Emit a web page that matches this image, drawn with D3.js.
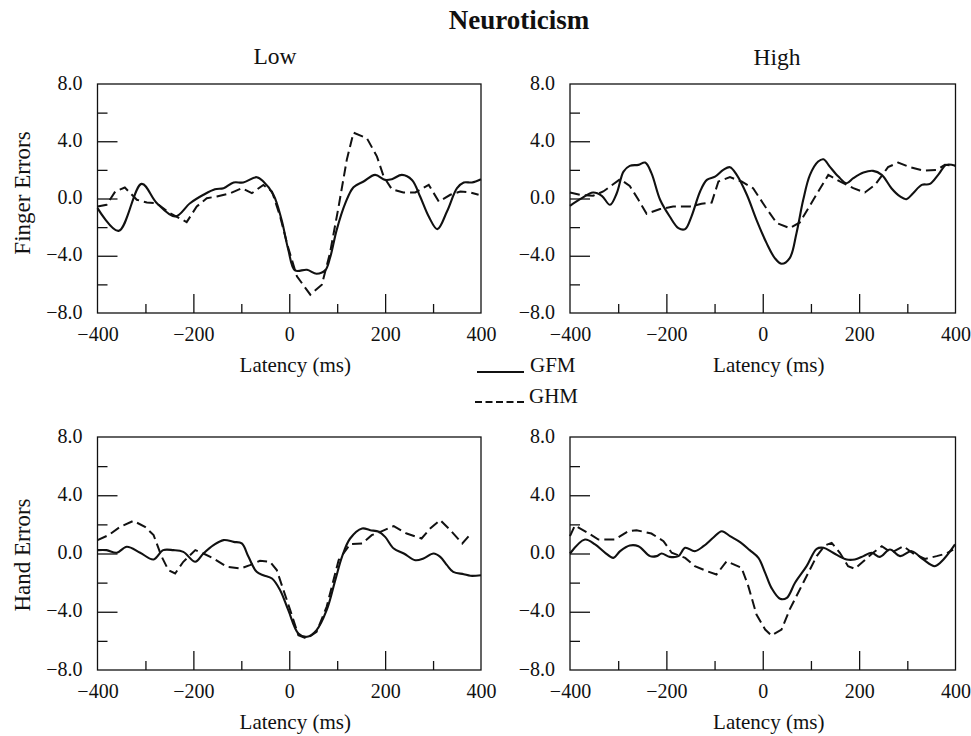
<!DOCTYPE html>
<html><head><meta charset="utf-8">
<script src="https://cdn.jsdelivr.net/npm/d3@7"></script>
<style>
html,body{margin:0;padding:0;background:#fff;}
text{font-family:"Liberation Serif","Times New Roman",serif;fill:#111;}
</style></head>
<body><svg id="c" width="971" height="736"></svg>
<script>
// ---- data ----
const xTicks = [-400,-300,-200,-100,0,100,200,300,400];
const xTickLabels = ["\u2212400","\u2212200","0","200","400"];
const yTicks = [8,6,4,2,0,-2,-4,-6,-8];
const yTickLabels = ["8.0","4.0","0.0","\u22124.0","\u22128.0"];
const seriesNames = ["GFM","GHM"];
const columnTitles = ["Low","High"];
const rowTitles = ["Finger Errors","Hand Errors"];

// Finger errors, Low neuroticism
const fingerLowGFM_ms = [-400,-356,-308,-276,-238,-207,-179,-155,-137,-116,-96,-68,-54,-33,-16,-2,12,37,57,75,85,99,117,134,155,179,200,214,235,256,273,291,309,329,350,364,381,400];
const fingerLowGFM = [-0.67,-2.26,1.02,-0.33,-1.26,-0.33,0.26,0.65,0.72,1.12,1.12,1.49,1.19,0.26,-1.49,-3.58,-5.02,-4.98,-5.26,-5.02,-4.16,-2.19,-0.33,0.79,1.19,1.65,1.30,1.35,1.65,1.30,0.14,-1.26,-2.14,-0.91,0.72,1.12,1.12,1.35];
const fingerLowGHM_ms = [-400,-381,-363,-343,-318,-297,-277,-249,-214,-193,-172,-151,-123,-99,-78,-54,-36,-19,-2,16,44,68,85,103,120,134,162,183,197,214,238,263,291,312,336,357,378,395];
const fingerLowGHM = [-0.56,-0.44,0.49,0.77,-0.09,-0.28,-0.33,-1.02,-1.65,-0.56,0.02,0.14,0.37,0.72,0.37,0.95,0.49,-1.26,-3.47,-5.44,-6.72,-6.02,-3.81,-0.56,2.70,4.60,4.21,2.93,1.53,0.65,0.42,0.42,0.95,-0.21,0.26,0.49,0.42,0.26];

// Finger errors, High neuroticism
const fingerHighGFM_ms = [-400,-379,-352,-334,-317,-303,-289,-276,-258,-244,-231,-213,-193,-175,-161,-148,-130,-116,-99,-82,-68,-54,-33,-13,8,25,39,56,70,84,98,115,126,139,157,174,188,209,229,247,267,285,298,312,330,347,364,381,400];
const fingerHighGFM = [-0.51,-0.05,0.42,0.19,-0.44,0.37,1.88,2.28,2.35,2.51,1.77,-0.09,-1.26,-2.07,-2.14,-1.26,0.49,1.30,1.53,2.00,2.19,1.65,0.26,-1.49,-3.12,-4.16,-4.56,-4.16,-2.42,-0.09,1.65,2.58,2.74,2.23,1.53,1.07,1.42,1.81,1.93,1.65,0.72,0.14,-0.05,0.37,0.95,1.02,1.65,2.35,2.28];
const fingerHighGHM_ms = [-400,-379,-352,-331,-296,-276,-258,-241,-213,-186,-151,-127,-106,-92,-68,-44,-20,5,29,56,77,105,136,160,188,212,233,260,281,305,333,361,378,399];
const fingerHighGHM = [0.42,0.26,0.19,0.49,1.35,0.88,-0.09,-1.07,-0.74,-0.56,-0.56,-0.37,-0.28,1.19,1.49,1.19,0.72,-0.56,-1.72,-2.07,-1.67,-0.09,1.65,1.19,0.72,0.42,0.95,2.19,2.51,2.19,1.95,2.00,2.35,2.28];

// Hand errors, Low neuroticism
const handLowGFM_ms = [-400,-381,-360,-339,-311,-283,-263,-242,-221,-196,-179,-158,-137,-116,-99,-85,-68,-54,-36,-19,-2,19,37,57,78,96,110,127,152,169,187,200,218,239,263,280,301,315,329,342,364,378,400];
const handLowGFM = [0.23,0.23,0.05,0.46,0.05,-0.41,0.23,0.23,0.11,-0.57,0.0,0.57,0.92,0.80,0.69,-0.23,-1.26,-1.49,-1.72,-2.52,-3.89,-5.49,-5.72,-5.26,-3.89,-1.83,-0.23,1.03,1.72,1.60,1.49,1.14,0.34,0.0,-0.46,-0.34,0.0,-0.23,-0.80,-1.26,-1.42,-1.53,-1.49];
const handLowGHM_ms = [-400,-377,-353,-325,-301,-283,-266,-252,-238,-221,-196,-179,-158,-130,-102,-82,-61,-40,-26,-12,2,19,37,57,78,103,127,152,172,190,218,245,276,294,315,336,361,378];
const handLowGHM = [0.92,1.26,1.83,2.24,1.83,1.26,-0.23,-1.14,-1.37,-0.57,0.23,0.0,-0.34,-0.92,-1.03,-0.80,-0.50,-0.57,-1.14,-2.52,-3.89,-5.61,-5.84,-5.38,-3.66,-0.46,0.64,0.69,1.26,1.49,1.88,1.37,1.03,1.72,2.29,1.60,0.69,1.33];

// Hand errors, High neuroticism
const handHighGFM_ms = [-400,-369,-348,-327,-310,-296,-276,-258,-234,-220,-210,-193,-175,-161,-141,-123,-103,-85,-68,-47,-27,-9,5,18,36,50,67,91,112,126,146,174,191,209,226,243,264,285,309,333,357,375,399];
const handHighGFM = [0,0.96,0.62,0.05,-0.30,0.16,0.55,0.50,-0.18,-0.18,0,-0.23,-0.18,0.39,0.16,0.50,1.08,1.53,1.19,0.78,0.23,-0.30,-1.33,-2.36,-3.11,-3.04,-2.01,-0.87,0.32,0.39,0.05,-0.41,-0.41,-0.18,0.05,-0.23,0.27,-0.18,0.16,-0.41,-0.87,-0.41,0.62];
const handHighGHM_ms = [-400,-390,-365,-341,-307,-279,-262,-231,-206,-189,-161,-141,-116,-96,-75,-44,-30,-13,5,18,39,56,84,112,129,143,160,177,191,209,229,247,267,292,312,337,361,381,395];
const handHighGHM = [1.19,1.92,1.46,0.96,0.96,1.53,1.60,1.37,0.85,0.05,-0.30,-0.87,-1.21,-1.44,-0.53,-0.98,-2.24,-4.19,-5.22,-5.63,-5.22,-3.84,-2.01,-0.18,0.55,0.73,0.05,-0.87,-1.05,-0.53,0.05,0.50,0.05,0.50,0,-0.37,-0.18,0,0.27];

// ---- layout ----
const panels = [
  {x0:97.5, x1:481, y0:84, y1:313, gfm:[fingerLowGFM_ms,fingerLowGFM], ghm:[fingerLowGHM_ms,fingerLowGHM]},
  {x0:570, x1:955.5, y0:84, y1:313, gfm:[fingerHighGFM_ms,fingerHighGFM], ghm:[fingerHighGHM_ms,fingerHighGHM]},
  {x0:97.5, x1:481, y0:437, y1:670, gfm:[handLowGFM_ms,handLowGFM], ghm:[handLowGHM_ms,handLowGHM]},
  {x0:570, x1:955.5, y0:437, y1:670, gfm:[handHighGFM_ms,handHighGFM], ghm:[handHighGHM_ms,handHighGHM]}
];

const svg = d3.select("#c");
const ink = "#111";
const serif = "'Liberation Serif','Times New Roman',serif";

panels.forEach(p => {
  const x = d3.scaleLinear().domain([-400,400]).range([p.x0,p.x1]);
  const y = d3.scaleLinear().domain([-8,8]).range([p.y1,p.y0]);
  const g = svg.append("g");

  // frame
  g.append("rect").attr("x",p.x0).attr("y",p.y0).attr("width",p.x1-p.x0).attr("height",p.y1-p.y0)
    .attr("fill","none").attr("stroke",ink).attr("stroke-width",1.3);

  // bottom axis: ticks pointing up inside the frame
  const xa = d3.axisBottom(x).tickValues(xTicks).tickSize(0).tickFormat(d => {
      const i = [-400,-200,0,200,400].indexOf(d); return i>=0 ? xTickLabels[i] : "";});
  const gx = g.append("g").attr("transform",`translate(0,${p.y1})`).call(xa)
    .attr("font-family",serif).attr("font-size",20);
  gx.select(".domain").remove();
  gx.selectAll(".tick line").attr("y2", d => (d%200===0 && Math.abs(d)<400) ? -19 : (d%200===0 ? 0 : -9))
    .attr("stroke",ink).attr("stroke-width",1.3);
  gx.selectAll(".tick text").attr("y",28).attr("dy",null).style("font-size","20px")
    .style("font-family",serif).attr("fill",ink);

  // left axis: ticks pointing right inside the frame
  const ya = d3.axisLeft(y).tickValues(yTicks).tickSize(0).tickFormat(d => {
      const i = [8,4,0,-4,-8].indexOf(d); return i>=0 ? yTickLabels[i] : "";});
  const gy = g.append("g").attr("transform",`translate(${p.x0},0)`).call(ya)
    .attr("font-family",serif).attr("font-size",20);
  gy.select(".domain").remove();
  gy.selectAll(".tick line").attr("x2", d => (Math.abs(d)===8) ? 0 : (d%4===0 ? 20 : 10))
    .attr("stroke",ink).attr("stroke-width",1.3);
  gy.selectAll(".tick text").attr("x",-15).attr("dy","0.25em").style("font-size","20px")
    .style("font-family",serif).attr("fill",ink);

  const lineS = d3.line().x(d=>x(d[0])).y(d=>y(d[1])).curve(d3.curveCatmullRom.alpha(0.5));
  const lineD = d3.line().x(d=>x(d[0])).y(d=>y(d[1])).curve(d3.curveLinear);
  const solid = d3.zip(p.gfm[0], p.gfm[1]);
  const dashed = d3.zip(p.ghm[0], p.ghm[1]);
  g.append("path").attr("d",lineD(dashed)).attr("fill","none").attr("stroke",ink)
    .attr("stroke-width",2).attr("stroke-dasharray","10,5");
  g.append("path").attr("d",lineS(solid)).attr("fill","none").attr("stroke",ink)
    .attr("stroke-width",2.1);

  // x axis title
  g.append("text").attr("x",(p.x0+p.x1)/2+6).attr("y",p.y1+59).attr("text-anchor","middle")
    .style("font-size","21px").text("Latency (ms)");
});

// titles
svg.append("text").attr("x",519).attr("y",29).attr("text-anchor","middle")
  .style("font-size","27px").style("font-weight","bold").text("Neuroticism");
svg.append("text").attr("x",275).attr("y",64).attr("text-anchor","middle")
  .style("font-size","23.5px").text(columnTitles[0]);
svg.append("text").attr("x",777).attr("y",65).attr("text-anchor","middle")
  .style("font-size","23.5px").text(columnTitles[1]);
svg.append("text").attr("transform","translate(30,193) rotate(-90)").attr("text-anchor","middle")
  .style("font-size","23px").text(rowTitles[0]);
svg.append("text").attr("transform","translate(30,555) rotate(-90)").attr("text-anchor","middle")
  .style("font-size","23px").text(rowTitles[1]);

// legend
const leg = svg.append("g");
leg.append("line").attr("x1",477).attr("x2",524).attr("y1",372).attr("y2",372)
  .attr("stroke",ink).attr("stroke-width",1.8);
leg.append("line").attr("x1",475).attr("x2",524).attr("y1",402).attr("y2",402)
  .attr("stroke",ink).attr("stroke-width",1.8).attr("stroke-dasharray","7,3.5");
leg.append("text").attr("x",530).attr("y",372).style("font-size","21px").text(seriesNames[0]);
leg.append("text").attr("x",529).attr("y",403).style("font-size","21px").text(seriesNames[1]);
</script></body></html>
